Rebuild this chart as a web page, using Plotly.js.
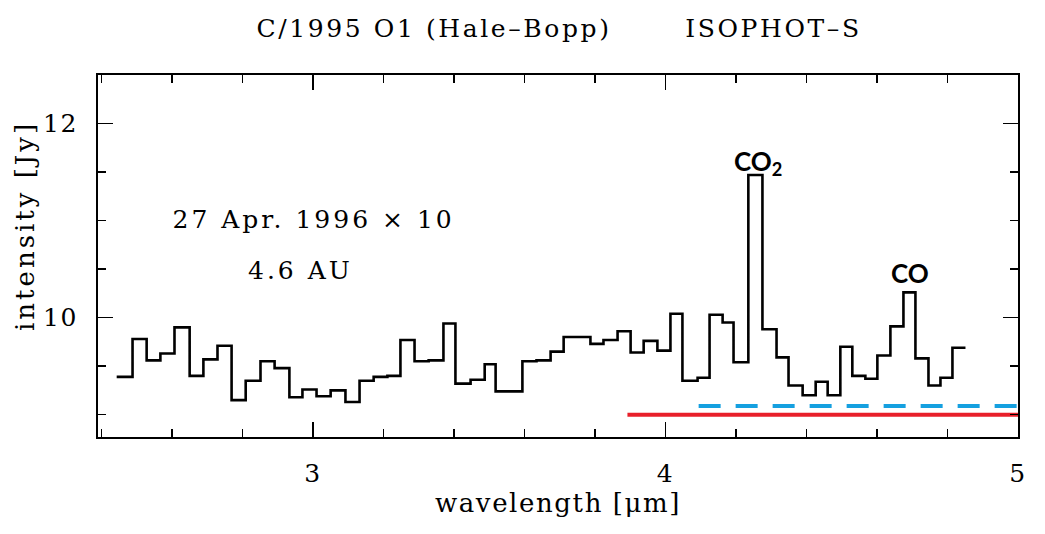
<!DOCTYPE html>
<html>
<head>
<meta charset="utf-8">
<script src="https://cdn.plot.ly/plotly-3.0.1.min.js"></script>
<style>
html,body{margin:0;padding:0;background:#fff;}
#chart{width:1045px;height:534px;}
#chart .xtitle, #chart .xtick text, #chart .ytick text { letter-spacing: 1.6px; }
#chart .gtitle { letter-spacing: 2.6px; }
#chart .annotation-text.serif { letter-spacing: 3px; }
</style>
</head>
<body>
<div id="chart"></div>
<script>
// Bin edges (µm) of the ISOPHOT-S spectrum
const binEdges = [2.443,2.488,2.528,2.567,2.607,2.650,2.689,2.729,2.769,2.809,2.851,2.891,2.933,2.970,3.010,3.050,3.092,3.132,3.172,3.211,3.248,3.288,3.328,3.370,3.404,3.447,3.487,3.518,3.557,3.594,3.634,3.674,3.711,3.750,3.787,3.824,3.864,3.901,3.938,3.977,4.014,4.048,4.091,4.125,4.162,4.193,4.235,4.275,4.315,4.349,4.389,4.426,4.460,4.496,4.530,4.567,4.601,4.638,4.675,4.709,4.746,4.780,4.814,4.851];
// Intensity per bin (Jy)
const intensity = [9.39,9.78,9.56,9.63,9.90,9.40,9.57,9.71,9.15,9.35,9.55,9.48,9.18,9.26,9.19,9.25,9.13,9.35,9.39,9.40,9.77,9.55,9.56,9.94,9.32,9.36,9.52,9.24,9.24,9.55,9.56,9.65,9.80,9.80,9.73,9.77,9.86,9.64,9.76,9.66,10.04,9.35,9.38,10.03,9.95,9.54,11.47,9.88,9.59,9.30,9.20,9.34,9.20,9.70,9.40,9.37,9.61,9.91,10.26,9.58,9.30,9.38,9.69];
// Reference levels
const redLineX = [3.892, 5.0];
const redLineY = [9.00, 9.00];
const blueLineX = [4.094, 5.0];
const blueLineY = [9.09, 9.09];
// Axis ticks
const xTickVals = [3, 4, 5];
const xTickText = ["3", "4", "5"];
const yTickVals = [10, 12];
const yTickText = ["10", "12"];

const stepY = intensity.concat([intensity[intensity.length - 1]]);

const serif = "DejaVu Serif";
const traces = [
  {x: binEdges, y: stepY, type: "scatter", mode: "lines",
   line: {shape: "hv", color: "#000", width: 2.6}, hoverinfo: "skip"},
  {x: redLineX, y: redLineY, type: "scatter", mode: "lines",
   line: {color: "#e8202a", width: 4}, cliponaxis: false},
  {x: blueLineX, y: blueLineY, type: "scatter", mode: "lines",
   line: {color: "#15a0e0", width: 4, dash: "22px,15px"}, cliponaxis: false}
];

const axisCommon = {
  showgrid: false, zeroline: false, showline: true, linecolor: "#000", linewidth: 2,
  mirror: "ticks", ticks: "inside", tickcolor: "#000", tickwidth: 1.6, ticklen: 15,
  tickfont: {family: serif, size: 25, color: "#000"}
};

const layout = {
  width: 1045, height: 534,
  margin: {l: 98, r: 27, t: 75, b: 97},
  paper_bgcolor: "#fff", plot_bgcolor: "#fff",
  showlegend: false,
  title: {text: "C/1995 O1 (Hale\u2013Bopp)&nbsp;&nbsp;&nbsp;&nbsp;&nbsp;&nbsp;&nbsp;ISOPHOT\u2013S",
          x: 0.535, xanchor: "center", y: 0.947, yanchor: "middle",
          font: {family: serif, size: 25, color: "#000"}},
  xaxis: Object.assign({}, axisCommon, {
    range: [2.39, 5.0], tickvals: xTickVals, ticktext: xTickText, ticklabelstandoff: 13,
    minor: {dtick: 0.2, tick0: 2.4, ticks: "inside", ticklen: 8, tickcolor: "#000", tickwidth: 1.6},
    title: {text: "wavelength [\u03bcm]", standoff: 6, font: {family: serif, size: 26, color: "#000"}}
  }),
  yaxis: Object.assign({}, axisCommon, {
    range: [8.77, 12.5], tickvals: yTickVals, ticktext: yTickText, ticklabelstandoff: 13,
    minor: {dtick: 0.5, tick0: 9, ticks: "inside", ticklen: 8, tickcolor: "#000", tickwidth: 1.6}
  }),
  annotations: [
    {x: -0.0793, y: 0.583, xref: "paper", yref: "paper", xanchor: "center", yanchor: "middle",
     textangle: -90, text: "intensity [Jy]", showarrow: false,
     font: {family: serif, size: 26, color: "#000"}},
    {x: 3.0, y: 11.01, xref: "x", yref: "y", text: "27 Apr. 1996 \u00d7 10", showarrow: false,
     font: {family: serif, size: 25, color: "#000"}},
    {x: 2.965, y: 10.49, xref: "x", yref: "y", text: "4.6 AU", showarrow: false,
     font: {family: serif, size: 25, color: "#000"}},
    {x: 4.262, y: 11.6, xref: "x", yref: "y", yanchor: "middle", text: "<b>CO<sub>2</sub></b>", showarrow: false,
     font: {family: "Lato", size: 26, color: "#000"}},
    {x: 4.695, y: 10.46, xref: "x", yref: "y", yanchor: "middle", text: "<b>CO</b>", showarrow: false,
     font: {family: "Lato", size: 26, color: "#000"}}
  ]
};

Plotly.newPlot("chart", traces, layout, {staticPlot: true, displayModeBar: false}).then(function () {
  // wider letter spacing for the serif annotations, like the reference typeface
  document.querySelectorAll("#chart .annotation-text").forEach(function (t) {
    if ((t.style.fontFamily || "").indexOf("Serif") >= 0) t.classList.add("serif");
  });
});
</script>
</body>
</html>
